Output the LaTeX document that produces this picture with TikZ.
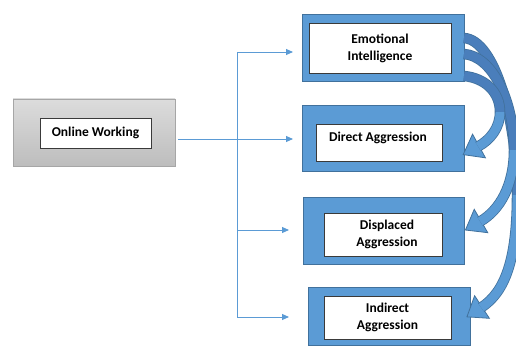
\documentclass[tikz,border=0pt]{standalone}
\usepackage{fontspec}
\setmainfont{Carlito}
\usetikzlibrary{arrows.meta,calc}

\definecolor{boxblue}{HTML}{5B9BD5}
\definecolor{boxedge}{HTML}{41719C}
\definecolor{bandback}{HTML}{4A7EBB}
\definecolor{greytop}{HTML}{DCDCDC}
\definecolor{greybot}{HTML}{BDBDBD}
\definecolor{greyedge}{HTML}{A6A6A6}
\definecolor{inneredge}{HTML}{3A3A3A}

% thick curved block arrow: start, c1, c2, bend point, c3, c4, head base
\newcommand{\bentarrow}[7]{%
  \coordinate (ba-tip) at ($(#7)!-18pt!(#6)$);
  \coordinate (ba-l)   at ($(#7)!13.5pt!90:(#6)$);
  \coordinate (ba-r)   at ($(#7)!13.5pt!-90:(#6)$);
  \coordinate (ba-end) at ($(#7)!-1pt!(#6)$);
  \filldraw[fill=boxblue, draw=boxedge, line width=0.8pt, line join=miter]
    (ba-tip) -- (ba-l) -- (ba-r) -- cycle;
  \draw[line width=10.5pt, boxedge] (#1) .. controls (#2) and (#3) .. (#4);
  \draw[line width=8.9pt, bandback] (#1) .. controls (#2) and (#3) .. (#4);
  \draw[line width=10.5pt, boxedge] (#4) .. controls (#5) and (#6) .. (ba-end);
  \draw[line width=8.9pt, boxblue] (#4) .. controls (#5) and (#6) .. (ba-end);
}

\begin{document}
\begin{tikzpicture}[x=1pt, y=-1pt,
  outerbox/.style={draw=boxedge, fill=boxblue, line width=1pt, inner sep=0pt},
  innerbox/.style={draw=inneredge, fill=white, line width=0.9pt, inner sep=0pt,
                   align=center, font=\fontsize{13.5}{17}\selectfont\bfseries},
  greybox/.style={draw=greyedge, top color=greytop, bottom color=greybot,
                  line width=0.8pt, inner sep=0pt},
  labeltext/.style={inner sep=0pt, font=\fontsize{13.5}{17}\selectfont\bfseries},
  conn/.style={draw=boxblue, line width=0.9pt},
  connarrow/.style={conn, -{Triangle[length=7pt, width=6pt]}}]

\useasboundingbox (0,0) rectangle (516,347);

% source box
\node[greybox, minimum width=162pt, minimum height=67pt] (srcouter) at (94,132.5) {};
\node[innerbox, minimum width=111pt, minimum height=30pt] (src) at (95.5,133) {Online Working};

% target boxes
\node[outerbox, minimum width=162pt, minimum height=67pt] (eiouter) at (383,48.5) {};
\node[innerbox, minimum width=142pt, minimum height=50pt] (ei) at (380,48) {Emotional\\Intelligence};

\node[outerbox, minimum width=162pt, minimum height=66pt] (daouter) at (383,139) {};
\node[innerbox, minimum width=126pt, minimum height=37pt] (da) at (379,142.5) {};
\node[labeltext] (datext) at (378,138) {Direct Aggression};

\node[outerbox, minimum width=161pt, minimum height=66pt] (dpouter) at (383.5,231) {};
\node[innerbox, minimum width=118pt, minimum height=43pt] (dp) at (383,234.5) {};
\node[labeltext, align=center] (dptext) at (387,234.5) {Displaced\\Aggression};

\node[outerbox, minimum width=162pt, minimum height=58pt] (iaouter) at (389,316) {};
\node[innerbox, minimum width=127pt, minimum height=43pt] (ia) at (387.5,317.5) {Indirect\\Aggression};

% thin connectors
\coordinate (start) at (178,139);
\coordinate (j1) at (237,52);
\coordinate (j3) at (237,230);
\coordinate (j4) at (237,317);
\coordinate (e1) at (293,52);
\coordinate (e2) at (293,139);
\coordinate (e3) at (289,230);
\coordinate (e4) at (289,317);

\draw[conn] (j1) -- (j4);
\draw[connarrow] (start) -- (e2);
\draw[connarrow] (j1) -- (e1);
\draw[connarrow] (j3) -- (e3);
\draw[connarrow] (j4) -- (e4);

% curved block arrows out of the first box
\coordinate (sc) at (464,38);
\coordinate (sc1) at (495,40);
\coordinate (sc2) at (517,120);
\coordinate (mc) at (517,195);
\coordinate (sc3) at (517,260);
\coordinate (sc4) at (505,292);
\coordinate (bc) at (482,307);
\bentarrow{sc}{sc1}{sc2}{mc}{sc3}{sc4}{bc}

\coordinate (sb) at (464,54);
\coordinate (sb1) at (492,56);
\coordinate (sb2) at (514,100);
\coordinate (mb) at (514,150);
\coordinate (sb3) at (514,185);
\coordinate (sb4) at (500,210);
\coordinate (bb) at (481,221);
\bentarrow{sb}{sb1}{sb2}{mb}{sb3}{sb4}{bb}

\coordinate (sa) at (464,76);
\coordinate (sa1) at (485,78);
\coordinate (sa2) at (500,92);
\coordinate (ma) at (500,112);
\coordinate (sa3) at (500,128);
\coordinate (sa4) at (490,140);
\coordinate (ba) at (479,146);
\bentarrow{sa}{sa1}{sa2}{ma}{sa3}{sa4}{ba}

\end{tikzpicture}
\end{document}
